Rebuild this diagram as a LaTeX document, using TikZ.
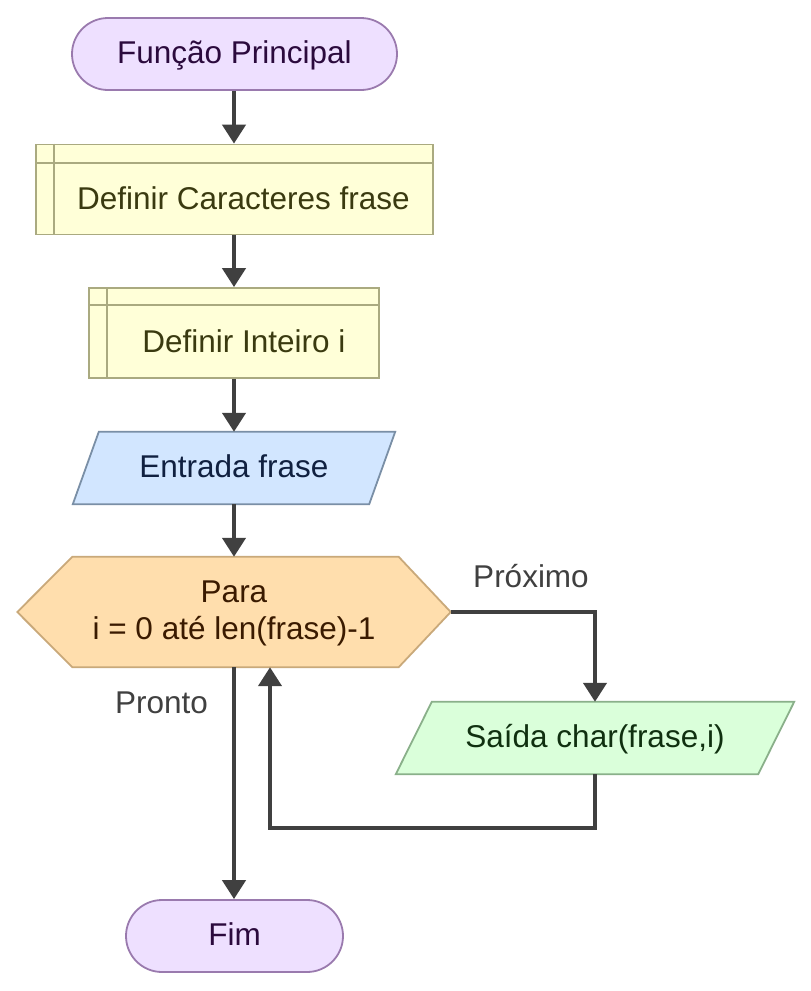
\documentclass[tikz,border=0pt]{standalone}
\usepackage{fontspec}
\setmainfont{Liberation Sans}
\usetikzlibrary{arrows.meta,backgrounds,calc}
\definecolor{termfill}{HTML}{EEE0FF}
\definecolor{termline}{HTML}{9A7AAE}
\definecolor{termtext}{HTML}{2B0A3D}
\definecolor{boxfill}{HTML}{FFFFD8}
\definecolor{boxline}{HTML}{AAAA80}
\definecolor{boxtext}{HTML}{3A3A10}
\definecolor{infill}{HTML}{D2E6FF}
\definecolor{inline}{HTML}{7A8FA6}
\definecolor{intext}{HTML}{102040}
\definecolor{hexfill}{HTML}{FFDEAD}
\definecolor{hexline}{HTML}{C9A97A}
\definecolor{hextext}{HTML}{3A1A00}
\definecolor{outfill}{HTML}{DAFFDA}
\definecolor{outline}{HTML}{8AB08A}
\definecolor{outtext}{HTML}{103010}
\definecolor{arrcol}{HTML}{404040}
\begin{document}
\begin{tikzpicture}[x=1pt,y=-1pt,
  base/.style={inner sep=0pt, text height=22pt, text depth=4pt, font=\fontsize{31.5}{37}\selectfont},
  term/.style={base, draw=termline, fill=termfill, text=termtext, line width=1.8pt, rounded corners=36pt, minimum height=72pt},
  procbox/.style={draw=boxline, fill=boxfill, line width=1.8pt, inner sep=0pt},
  proctext/.style={base, text=boxtext},
  shapebox/.style={base, inner sep=0pt, minimum height=72pt},
  arr/.style={draw=arrcol, line width=4.3pt, -{Triangle[width=23pt,length=19pt]}},
  lbl/.style={base, text=arrcol}
]
\useasboundingbox (0,0) rectangle (811,991);

% nodes
\node[term, minimum width=325pt] (start) at (234.5,54) {Função Principal};

\node[procbox, minimum width=397pt, minimum height=90pt] (d1) at (234.5,189.5) {};
\draw[boxline, line width=1.8pt] ([xshift=19pt]d1.north west) -- ([xshift=19pt]d1.south west);
\draw[boxline, line width=1.8pt] ([yshift=-19pt]d1.north west) -- ([yshift=-19pt]d1.north east);
\node[proctext] (d1t) at (243.5,200) {Definir Caracteres frase};

\node[procbox, minimum width=290pt, minimum height=90pt] (d2) at (234,333) {};
\draw[boxline, line width=1.8pt] ([xshift=19pt]d2.north west) -- ([xshift=19pt]d2.south west);
\draw[boxline, line width=1.8pt] ([yshift=-18pt]d2.north west) -- ([yshift=-18pt]d2.north east);
\node[proctext] (d2t) at (244,343) {Definir Inteiro i};

\node[shapebox, minimum width=296pt, text=intext] (inp) at (234,468) {Entrada frase};

\node[inner sep=0pt, minimum width=433pt, minimum height=110pt] (hex) at (234,612) {};
\node[inner sep=0pt, align=center, text=hextext, font=\fontsize{31.5}{37}\selectfont] (hext) at (234,613.5) {Para\\i = 0 até len(frase)-1};

\node[shapebox, minimum width=362pt, text=outtext] (out) at (595,738) {Saída char(frase,i)};

\node[term, minimum width=217pt] (fim) at (234.5,936) {Fim};

\node[lbl] (pronto) at (161.5,704) {Pronto};
\node[lbl] (proximo) at (531,578) {Próximo};

% shapes behind text
\begin{scope}[on background layer]
\fill[white] (0,0) rectangle (811,991);
\draw[draw=inline, fill=infill, line width=1.8pt]
  ([xshift=13pt]inp.north west) -- ([xshift=13pt]inp.north east) --
  ([xshift=-13pt]inp.south east) -- ([xshift=-13pt]inp.south west) -- cycle;
\draw[draw=hexline, fill=hexfill, line width=1.8pt]
  (hex.west) -- ([xshift=55pt]hex.north west) -- ([xshift=-52pt]hex.north east) --
  (hex.east) -- ([xshift=-52pt]hex.south east) -- ([xshift=55pt]hex.south west) -- cycle;
\draw[draw=outline, fill=outfill, line width=1.8pt]
  ([xshift=18pt]out.north west) -- ([xshift=18pt]out.north east) --
  ([xshift=-18pt]out.south east) -- ([xshift=-18pt]out.south west) -- cycle;
\end{scope}

% connectors
\draw[arr] (start.south -| 234,0) -- (d1.north -| 234,0);
\draw[arr] (d1.south -| 234,0) -- (d2.north -| 234,0);
\draw[arr] (d2.south -| 234,0) -- (inp.north);
\draw[arr] (inp.south) -- (hex.north);
\draw[arr] (hex.south) -- (fim.north -| hex.south);
\draw[arr] (hex.east) -| (out.north);
\coordinate (back) at (270,828);
\draw[arr] (out.south) |- (back) -- (back |- hex.south);
\end{tikzpicture}
\end{document}
